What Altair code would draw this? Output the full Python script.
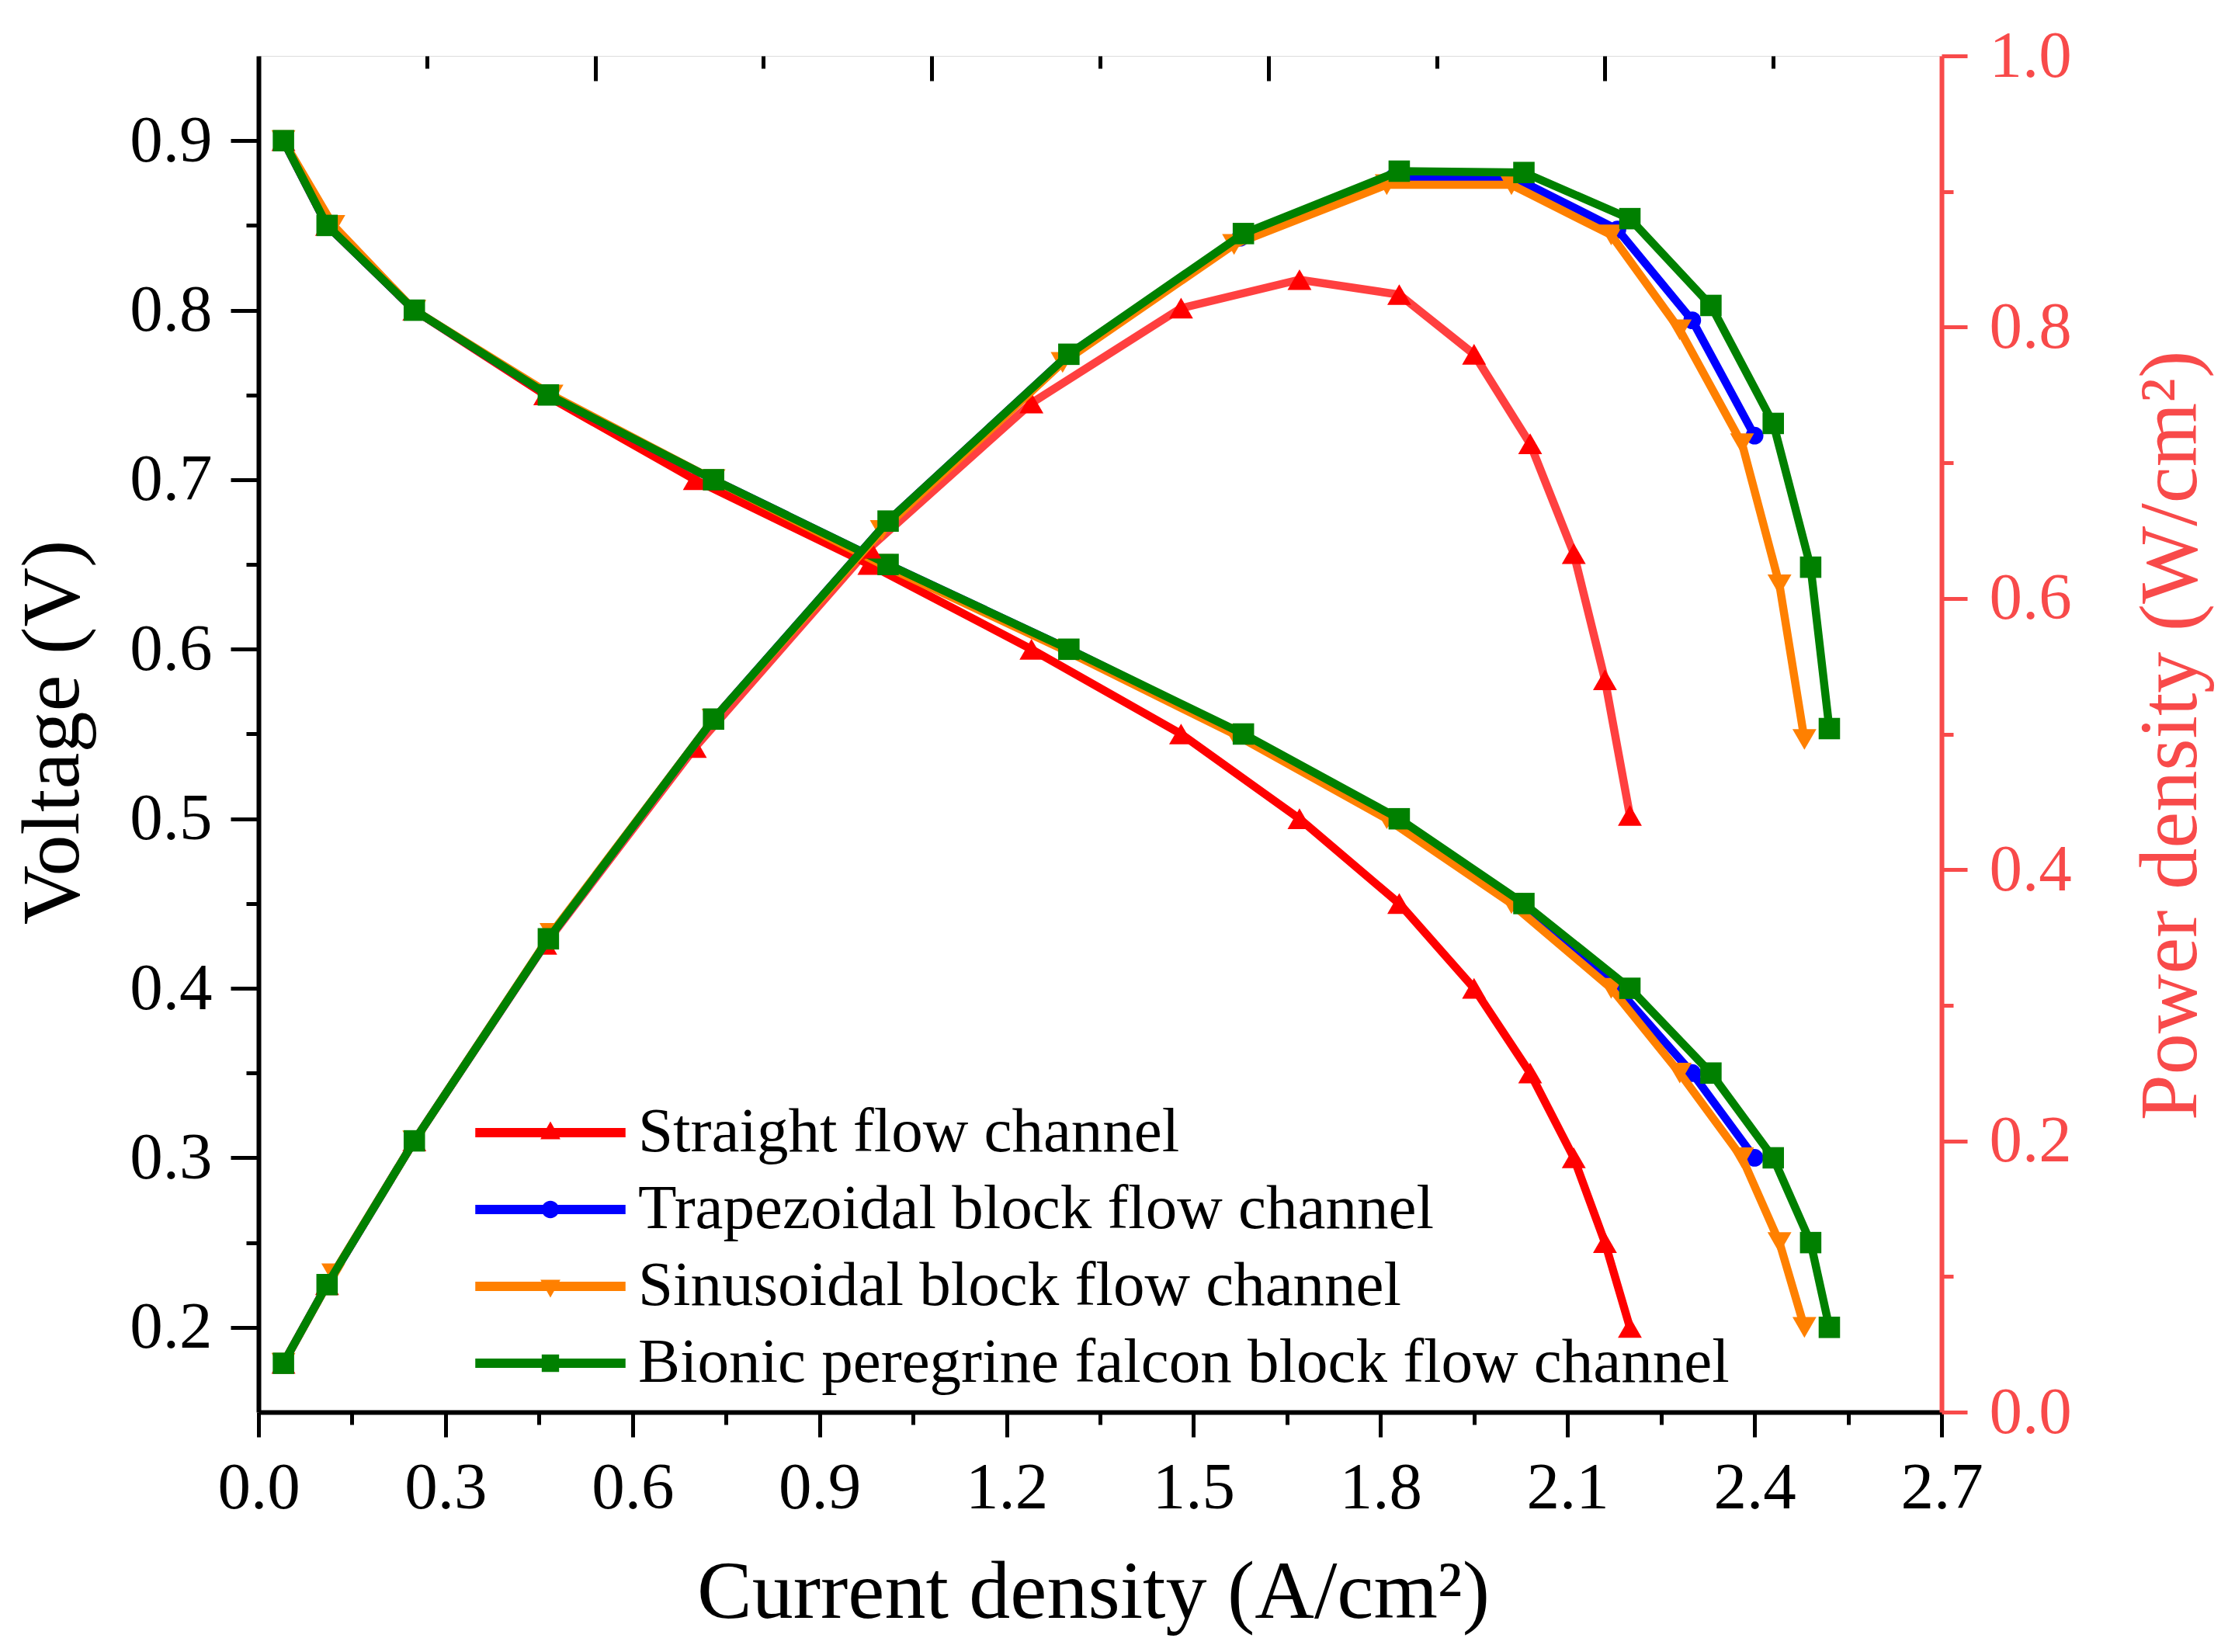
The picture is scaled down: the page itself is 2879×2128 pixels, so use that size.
import altair as alt
import pandas as pd

SERIES = ["Straight flow channel", "Trapezoidal block flow channel",
          "Sinusoidal block flow channel", "Bionic peregrine falcon block flow channel"]
COLORS = ["#FF0000", "#0000FF", "#FF8000", "#008000"]
SHAPES = ["triangle-up", "circle", "triangle-down", "square"]
SIZES = [950, 520, 950, 760]
POWER_LINE_OPACITY = [0.75, 1.0, 1.0, 1.0]

VOLTAGE = [0.90, 0.85, 0.80, 0.75, 0.70, 0.65, 0.60, 0.55, 0.50, 0.45, 0.40, 0.35, 0.30, 0.25, 0.20]

STRAIGHT_I = [0.04, 0.11, 0.25, 0.46, 0.70, 0.98, 1.24, 1.48, 1.67, 1.83, 1.95, 2.04, 2.11, 2.16, 2.20]
STRAIGHT_P = [0.036, 0.094, 0.200, 0.345, 0.490, 0.637, 0.744, 0.814, 0.835, 0.824, 0.780, 0.714, 0.633, 0.540, 0.440]

TRAP_I = [0.04, 0.11, 0.25, 0.465, 0.73, 1.01, 1.30, 1.575, 1.82, 2.02, 2.18, 2.30, 2.40]
TRAP_P = [0.036, 0.094, 0.200, 0.349, 0.511, 0.657, 0.780, 0.866, 0.910, 0.909, 0.872, 0.805, 0.720]

SINE_I = [0.04, 0.12, 0.25, 0.47, 0.73, 1.00, 1.29, 1.565, 1.81, 2.01, 2.17, 2.28, 2.38, 2.44, 2.48]
SINE_P = [0.036, 0.102, 0.200, 0.353, 0.511, 0.650, 0.774, 0.861, 0.905, 0.905, 0.868, 0.798, 0.714, 0.610, 0.496]

BIONIC_I = [0.04, 0.11, 0.25, 0.465, 0.73, 1.01, 1.30, 1.58, 1.83, 2.03, 2.20, 2.33, 2.43, 2.49, 2.52]
BIONIC_P = [0.036, 0.094, 0.200, 0.349, 0.511, 0.657, 0.780, 0.869, 0.915, 0.914, 0.880, 0.816, 0.729, 0.623, 0.504]

X_TICKS = [0.0, 0.15, 0.3, 0.45, 0.6, 0.75, 0.9, 1.05, 1.2, 1.35, 1.5, 1.65, 1.8, 1.95, 2.1, 2.25, 2.4, 2.55, 2.7]
TOP_TICKS = [0.27, 0.54, 0.81, 1.08, 1.35, 1.62, 1.89, 2.16, 2.43]
V_TICKS = [0.2, 0.25, 0.3, 0.35, 0.4, 0.45, 0.5, 0.55, 0.6, 0.65, 0.7, 0.75, 0.8, 0.85, 0.9]
P_TICKS = [0.0, 0.1, 0.2, 0.3, 0.4, 0.5, 0.6, 0.7, 0.8, 0.9, 1.0]

LEGEND_PATHS = [
    "M-2.25,-0.14H2.25V0.14H-2.25Z M0,-0.34L0.3,0.2L-0.3,0.2Z",
    "M-2.25,-0.14H2.25V0.14H-2.25Z M0.26,0A0.26,0.26,0,1,1,-0.26,0A0.26,0.26,0,1,1,0.26,0Z",
    "M-2.25,-0.14H2.25V0.14H-2.25Z M0,0.34L-0.3,-0.2L0.3,-0.2Z",
    "M-2.25,-0.14H2.25V0.14H-2.25Z M-0.26,-0.26H0.26V0.26H-0.26Z",
]

FONT = "Liberation Serif"
RED_AXIS = "#F84A4A"

rows = []
for name, cur, pw in zip(SERIES, [STRAIGHT_I, TRAP_I, SINE_I, BIONIC_I],
                         [STRAIGHT_P, TRAP_P, SINE_P, BIONIC_P]):
    for v, i, p in zip(VOLTAGE, cur, pw):
        rows.append({"series": name, "current": i, "voltage": v, "power": p})
df = pd.DataFrame(rows)

MAJ_X = "abs(datum.value/0.3 - round(datum.value/0.3)) < 0.01"
MAJ_TOP = "abs(datum.value/0.54 - round(datum.value/0.54)) < 0.01"
MAJ_V = "abs(datum.value*10 - round(datum.value*10)) < 0.01"
MAJ_P = "abs(datum.value*5 - round(datum.value*5)) < 0.01"

common_axis = dict(grid=False, labelFont=FONT, titleFont=FONT, labelFlush=False,
                   labelOverlap=False, titleFontWeight="normal", tickWidth=5,
                   domainWidth=6, labelFontSize=85, titleFontSize=106,
                   titleBaseline="alphabetic", titleAlign="center")

bottom_axis = alt.Axis(
    orient="bottom", values=X_TICKS, title="Current density (A/cm²)",
    labelExpr=f"{MAJ_X} ? format(datum.value, '.1f') : ''",
    tickSize={"condition": {"test": MAJ_X, "value": 32}, "value": 16},
    tickColor="black", domainColor="black", labelColor="black", titleColor="black",
    labelPadding=24, titleX=1075, titleY=264, titleAngle=0, **common_axis)

top_axis = alt.Axis(
    orient="top", values=TOP_TICKS, title=None, labels=False, domain=False,
    offset=-32, tickSize=32, tickWidth=5, tickColor="black", grid=False,
    tickDash={"condition": {"test": MAJ_TOP, "value": [40, 0]}, "value": [0, 16, 16, 0]})

left_axis = alt.Axis(
    orient="left", values=V_TICKS, title="Voltage (V)",
    labelExpr=f"{MAJ_V} ? format(datum.value, '.1f') : ''",
    tickSize={"condition": {"test": MAJ_V, "value": 36}, "value": 16},
    tickColor="black", domainColor="black", labelColor="black", titleColor="black",
    labelPadding=24, titleAngle=270, titleX=-233, titleY=871, **common_axis)

right_axis = alt.Axis(
    orient="right", values=P_TICKS, title="Power density (W/cm²)",
    labelExpr=f"{MAJ_P} ? format(datum.value, '.1f') : ''",
    tickSize={"condition": {"test": MAJ_P, "value": 33}, "value": 15},
    tickColor=RED_AXIS, domainColor=RED_AXIS, labelColor=RED_AXIS, titleColor=RED_AXIS,
    labelPadding=28, titleAngle=270, titleX=327, titleY=875, **common_axis)

x_scale = alt.Scale(domain=[0, 2.7], nice=False, zero=False)
v_scale = alt.Scale(domain=[0.15, 0.95], nice=False, zero=False)
p_scale = alt.Scale(domain=[0, 1.0], nice=False, zero=False)

volt_layers = []
power_layers = []
for name, col, shp, sz, pop in zip(SERIES, COLORS, SHAPES, SIZES, POWER_LINE_OPACITY):
    base = alt.Chart(df).transform_filter(alt.datum.series == name)
    xb = alt.X("current:Q", scale=x_scale, axis=bottom_axis)
    xt = alt.X("current:Q", scale=x_scale, axis=top_axis)
    yv = alt.Y("voltage:Q", scale=v_scale, axis=left_axis)
    yp = alt.Y("power:Q", scale=p_scale, axis=right_axis)
    volt_layers.append(base.mark_line(color=col, strokeWidth=10.5).encode(x=xb, y=yv, order="current:Q"))
    volt_layers.append(base.mark_point(shape=shp, filled=True, size=sz, color=col,
                                       opacity=1, strokeWidth=0).encode(x=xb, y=yv))
    power_layers.append(base.mark_line(color=col, strokeWidth=10.5, opacity=pop).encode(
        x=xt, y=yp, order="current:Q"))
    power_layers.append(base.mark_point(shape=shp, filled=True, size=sz, color=col,
                                        opacity=1, strokeWidth=0).encode(x=xt, y=yp))

legend = alt.Legend(
    title=None, orient="none", legendX=333, legendY=1344, direction="vertical",
    labelFont=FONT, labelFontSize=81, labelColor="black", labelLimit=3000,
    symbolSize=7396, symbolStrokeWidth=0, symbolOpacity=1, labelOffset=70,
    rowPadding=16, padding=0)

legend_layer = alt.Chart(df).mark_point(filled=True, opacity=0, size=10).encode(
    x=alt.X("current:Q", scale=x_scale, axis=bottom_axis),
    y=alt.Y("voltage:Q", scale=v_scale, axis=left_axis),
    color=alt.Color("series:N", scale=alt.Scale(domain=SERIES, range=COLORS), legend=legend),
    shape=alt.Shape("series:N", scale=alt.Scale(domain=SERIES, range=LEGEND_PATHS), legend=legend),
)

volt_group = alt.layer(*volt_layers, legend_layer)
power_group = alt.layer(*power_layers)

chart = alt.layer(volt_group, power_group).resolve_scale(
    y="independent").resolve_axis(x="independent", y="independent").properties(
    width=2168, height=1747,
    autosize=alt.AutoSizeParams(type="none"),
    padding={"left": 325, "top": 64, "right": 370, "bottom": 301},
).configure_view(stroke="black", strokeWidth=6).configure(font=FONT, background="white")

chart.save("out.html", embed_options={"renderer": "svg", "actions": False})
